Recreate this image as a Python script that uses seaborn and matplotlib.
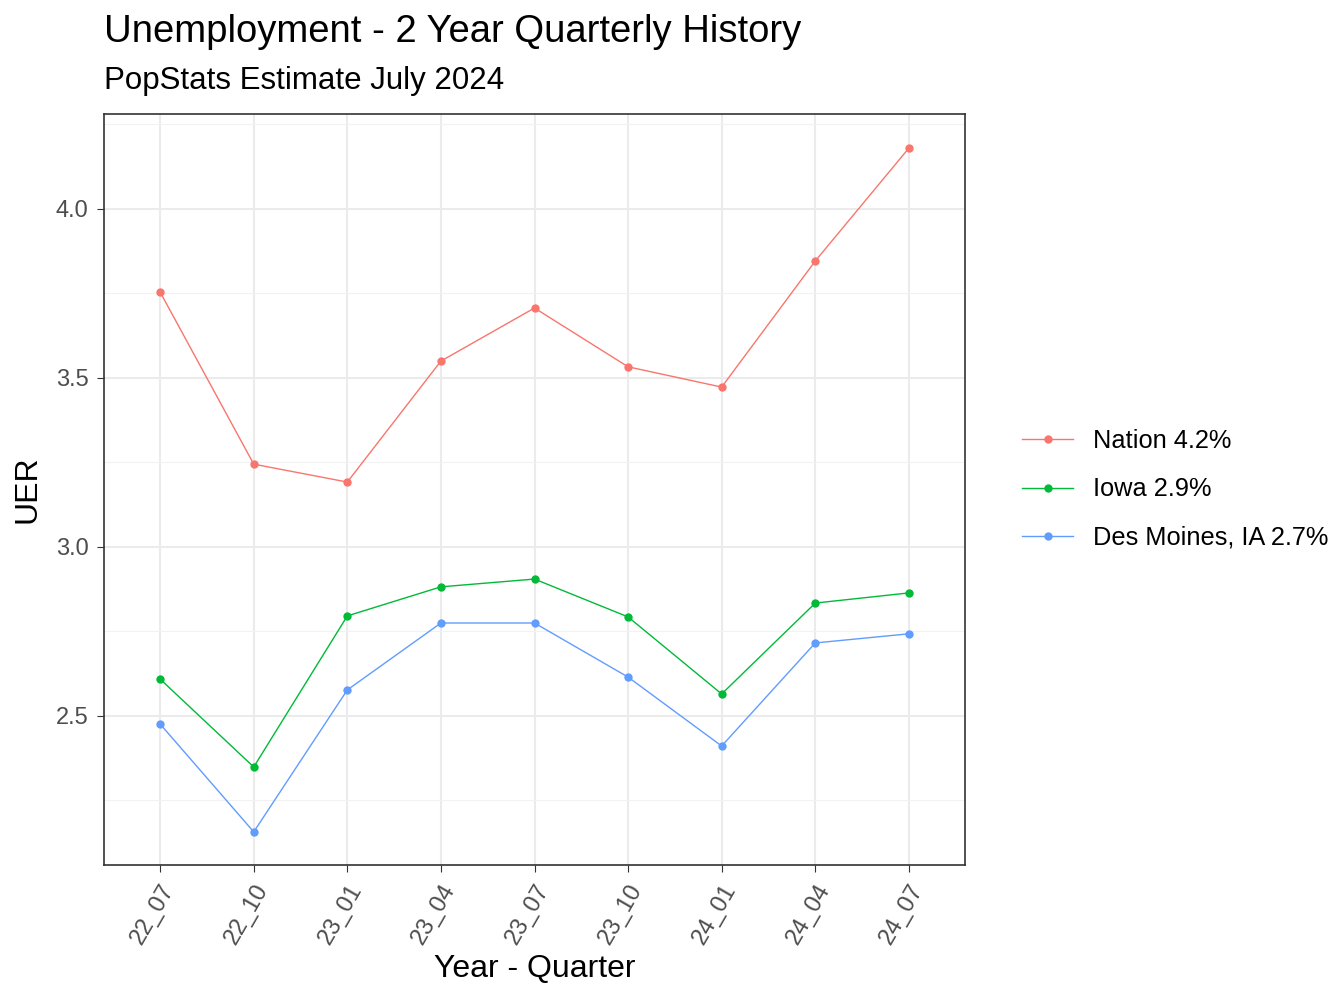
import matplotlib
matplotlib.use("Agg")
import matplotlib.pyplot as plt
import seaborn as sns
import pandas as pd
from matplotlib.ticker import MultipleLocator

quarters = ["22_07","22_10","23_01","23_04","23_07","23_10","24_01","24_04","24_07"]
nation = [3.754,3.245,3.192,3.55,3.707,3.533,3.473,3.846,4.18]
iowa = [2.609,2.349,2.796,2.882,2.905,2.793,2.565,2.834,2.864]
desmoines = [2.476,2.157,2.577,2.775,2.775,2.615,2.411,2.716,2.743]
series = ["Nation 4.2%","Iowa 2.9%","Des Moines, IA 2.7%"]
colors = ["#F8766D","#00BA38","#619CFF"]

rows = []
for name, vals in zip(series, [nation, iowa, desmoines]):
    for q, v in zip(quarters, vals):
        rows.append({"q": q, "UER": v, "s": name})
df = pd.DataFrame(rows)
df["x"] = df["q"].map({q: i for i, q in enumerate(quarters)})

plt.rcParams["font.family"] = "Liberation Sans"
fig = plt.figure(figsize=(13.44, 10.08), dpi=100)
ax = fig.add_axes([104/1344, 1-865/1008, (965-104)/1344, (865-114)/1008])
sns.lineplot(data=df, x="x", y="UER", hue="s", hue_order=series, palette=colors,
             marker="o", markersize=6, markeredgewidth=0, linewidth=1, ax=ax)
ax.set_xticks(range(len(quarters)))
ax.set_xticklabels(quarters, rotation=60, ha="right", rotation_mode="anchor", fontsize=17, color="#4d4d4d")
ax.set_xlim(-0.6, 8.6)
ax.set_ylim(2.059, 4.281)
ax.yaxis.set_minor_locator(MultipleLocator(0.25))
ax.set_yticks([2.5,3.0,3.5,4.0])
ax.set_yticklabels(["2.5","3.0","3.5","4.0"], fontsize=17, color="#4d4d4d")
ax.grid(True, which="major", color="#ebebeb", linewidth=1.5)
ax.grid(True, which="minor", axis="y", color="#f2f2f2", linewidth=0.8)
ax.tick_params(which="minor", length=0)
ax.tick_params(which="major", length=5, color="#333333", pad=6)
for s in ax.spines.values():
    s.set_color("#333333"); s.set_linewidth(1.2)
ax.set_axisbelow(True)
ax.set_xlabel("Year - Quarter", fontsize=23, labelpad=4)
ax.set_ylabel("UER", fontsize=23, labelpad=10)
leg = ax.legend(title=None, loc="center left", bbox_to_anchor=(1.04, 0.5), frameon=False,
                fontsize=18.3, handlelength=2.0, labelspacing=0.95)
fig.text(104/1344, 1-32/1008, "Unemployment - 2 Year Quarterly History", fontsize=27.5, va="center")
fig.text(104/1344, 1-81/1008, "PopStats Estimate July 2024", fontsize=22.5, va="center")
fig.savefig("out.png", dpi=100, facecolor="white")
